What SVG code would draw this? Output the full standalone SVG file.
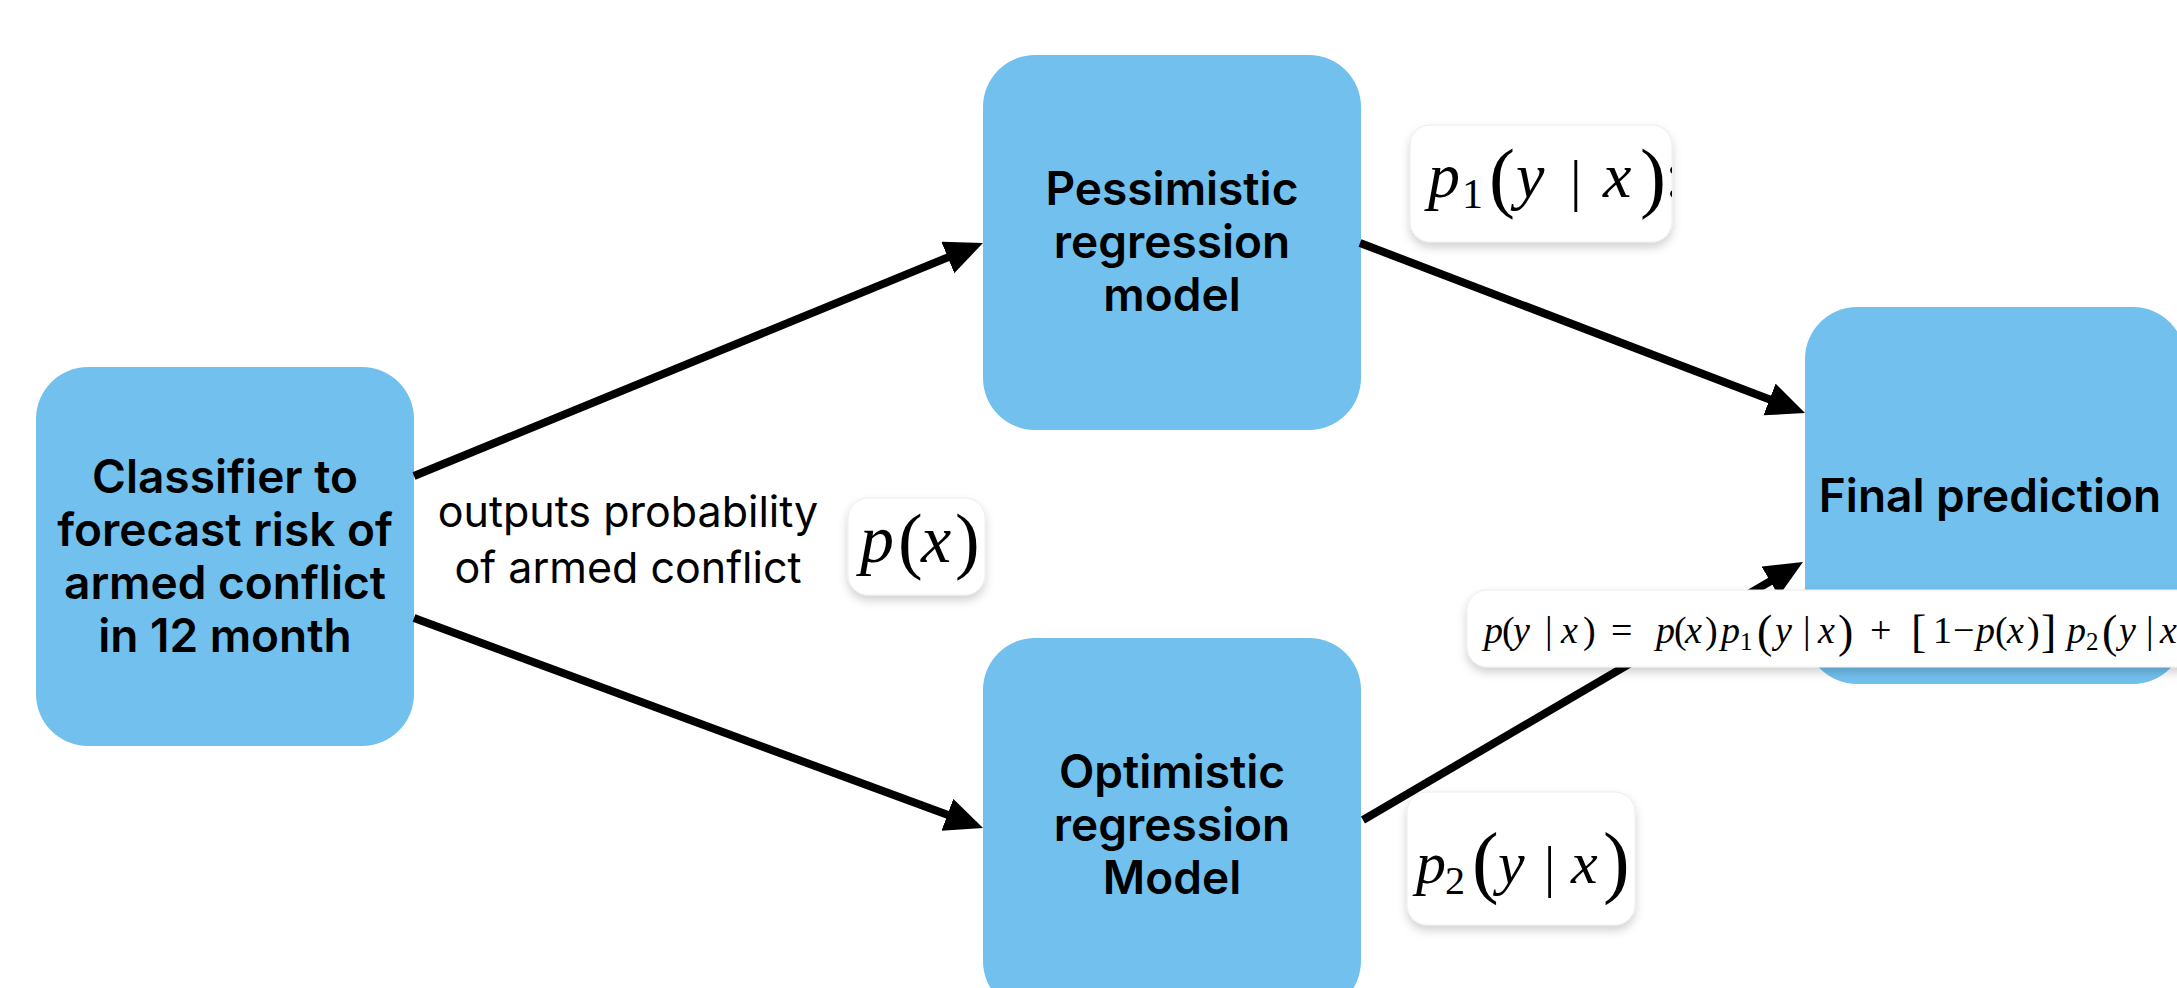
<svg xmlns="http://www.w3.org/2000/svg" width="2177" height="988" viewBox="0 0 2177 988">
  <defs>
    <style>
      .node { fill: #72C0EE; }
      .title { font-family: Inter, "Liberation Sans", Arial, sans-serif; font-weight: 600; font-size: 46px; fill: #000; text-anchor: middle; }
      .label { font-family: Inter, "Liberation Sans", Arial, sans-serif; font-weight: 400; font-size: 43px; fill: #000; text-anchor: middle; }
      .chip { fill: #fff; stroke: #ececec; stroke-width: 1; filter: url(#shadow); }
      .m { font-family: "Liberation Serif", "Times New Roman", serif; fill: #000; }
      .mi { font-style: italic; }
      .edge { stroke: #000; stroke-width: 8; fill: none; marker-end: url(#head); }
    </style>
    <filter id="shadow" x="-20%" y="-30%" width="140%" height="170%">
      <feDropShadow dx="0" dy="5" stdDeviation="5" flood-color="#000" flood-opacity="0.18"/>
    </filter>
    <marker id="head" markerUnits="userSpaceOnUse" markerWidth="40" markerHeight="36" refX="8" refY="17" orient="auto">
      <path d="M0,0 L38,17 L0,34 z" fill="#000"/>
    </marker>
    <clipPath id="clip-p1"><rect x="1410" y="125" width="262" height="117" rx="20"/></clipPath>
  </defs>

  <rect width="2177" height="988" fill="#fff"/>

  <!-- classifier -->
  <g id="classifier">
    <rect class="node" x="36" y="367" width="378" height="379" rx="52"/>
    <text class="title" x="225" y="493">Classifier to</text>
    <text class="title" x="225" y="546">forecast risk of</text>
    <text class="title" x="225" y="599">armed conflict</text>
    <text class="title" x="225" y="652">in 12 month</text>
  </g>

  <!-- pessimistic regression -->
  <g id="pessimistic">
    <rect class="node" x="983" y="55" width="378" height="375" rx="52"/>
    <text class="title" x="1172" y="205">Pessimistic</text>
    <text class="title" x="1172" y="258">regression</text>
    <text class="title" x="1172" y="311">model</text>
  </g>

  <!-- optimistic regression -->
  <g id="optimistic">
    <rect class="node" x="983" y="638" width="378" height="375" rx="52"/>
    <text class="title" x="1172" y="788">Optimistic</text>
    <text class="title" x="1172" y="841">regression</text>
    <text class="title" x="1172" y="894">Model</text>
  </g>

  <!-- final prediction -->
  <g id="final">
    <rect class="node" x="1805" y="307" width="380" height="377" rx="52"/>
    <text class="title" x="1990" y="512">Final prediction</text>
  </g>

  <!-- connectors -->
  <g id="connectors">
    <path class="edge" d="M414,476 L955.2,254.4"/>
    <path class="edge" d="M414,618 L954.9,817.6"/>
    <path class="edge" d="M1360,243 L1777,402.3"/>
    <path class="edge" d="M1363,820 L1777.1,577.2"/>
  </g>

  <!-- edge label -->
  <g id="edge-label">
    <text class="label" x="628" y="527">outputs probability</text>
    <text class="label" x="628" y="583">of armed conflict</text>
  </g>

  <!-- p(x) -->
  <g id="px">
    <rect class="chip" x="848" y="498" width="137" height="97" rx="20"/>
    <g class="m" font-size="68">
      <text class="mi" x="860" y="562">p</text>
      <text x="898" y="565" font-size="74">(</text>
      <text class="mi" x="921" y="562">x</text>
      <text x="955" y="565" font-size="74">)</text>
    </g>
  </g>

  <!-- p1(y | x), cut at the card edge -->
  <g id="p1">
    <rect class="chip" x="1410" y="125" width="262" height="117" rx="20"/>
    <g class="m" font-size="64" clip-path="url(#clip-p1)">
      <text class="mi" x="1428" y="197">p</text>
      <text x="1462" y="208" font-size="42">1</text>
      <text x="1489" y="203" font-size="78">(</text>
      <text class="mi" x="1516" y="197">y</text>
      <text x="1570" y="200" font-size="58">|</text>
      <text class="mi" x="1603" y="197">x</text>
      <text x="1640" y="203" font-size="78">)</text>
      <text x="1665" y="197">:</text>
    </g>
  </g>

  <!-- p2(y | x) -->
  <g id="p2">
    <rect class="chip" x="1407" y="792" width="228" height="133" rx="20"/>
    <g class="m" font-size="60">
      <text class="mi" x="1416" y="883">p</text>
      <text x="1445" y="894" font-size="40">2</text>
      <text x="1472" y="888" font-size="80">(</text>
      <text class="mi" x="1498" y="883">y</text>
      <text x="1544" y="886" font-size="56">|</text>
      <text class="mi" x="1571" y="883">x</text>
      <text x="1603" y="888" font-size="80">)</text>
    </g>
  </g>

  <!-- mixture formula -->
  <g id="formula">
    <rect class="chip" x="1467" y="590" width="740" height="77" rx="20"/>
    <g class="m" font-size="38">
      <text class="mi" x="1484" y="643">p</text>
      <text x="1502" y="643">(</text>
      <text class="mi" x="1513" y="643">y</text>
      <text x="1545" y="643">|</text>
      <text class="mi" x="1561" y="643">x</text>
      <text x="1583" y="643">)</text>
      <text x="1611" y="643">=</text>
      <text class="mi" x="1656" y="643">p</text>
      <text x="1674" y="643">(</text>
      <text class="mi" x="1685" y="643">x</text>
      <text x="1705" y="643">)</text>
      <text class="mi" x="1721" y="643">p</text>
      <text x="1740" y="650" font-size="25">1</text>
      <text x="1757" y="647" font-size="46">(</text>
      <text class="mi" x="1775" y="643">y</text>
      <text x="1803" y="643">|</text>
      <text class="mi" x="1818" y="643">x</text>
      <text x="1838" y="647" font-size="46">)</text>
      <text x="1870" y="643">+</text>
      <text x="1911" y="647" font-size="46">[</text>
      <text x="1933" y="643">1</text>
      <text x="1953" y="643">−</text>
      <text class="mi" x="1976" y="643">p</text>
      <text x="1995" y="643">(</text>
      <text class="mi" x="2007" y="643">x</text>
      <text x="2027" y="643">)</text>
      <text x="2041" y="647" font-size="46">]</text>
      <text class="mi" x="2067" y="643">p</text>
      <text x="2086" y="650" font-size="25">2</text>
      <text x="2102" y="647" font-size="46">(</text>
      <text class="mi" x="2119" y="643">y</text>
      <text x="2146" y="643">|</text>
      <text class="mi" x="2160" y="643">x</text>
    </g>
  </g>
</svg>
